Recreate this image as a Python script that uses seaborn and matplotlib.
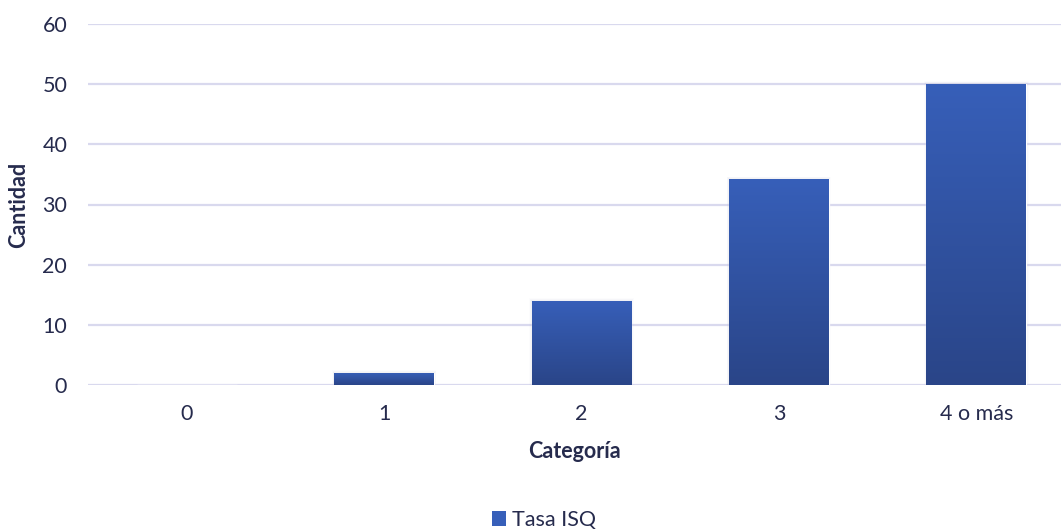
import numpy as np
import pandas as pd
import matplotlib
matplotlib.use("Agg")
import matplotlib.pyplot as plt
import seaborn as sns
from matplotlib.colors import LinearSegmentedColormap
from matplotlib.patches import Rectangle

categories = ["0", "1", "2", "3", "4 o más"]
values = [0, 2, 14, 34.2, 50]
series_name = "Tasa ISQ"
y_ticks = [0, 10, 20, 30, 40, 50, 60]

sns.set_theme(style="white")
plt.rcParams["font.family"] = ["Lato", "DejaVu Sans"]

text_color = "#262b4d"
grid_color = "#d9d9ee"
top_color = "#375fb9"
bottom_color = "#2a4588"
fs = 15.5

df = pd.DataFrame({"Categoría": categories, "Cantidad": values})

fig = plt.figure(figsize=(10.61, 5.31), dpi=100)
ax = fig.add_axes([88 / 1061, 1 - 385 / 531, 1 - 88 / 1061, (385 - 24) / 531])

sns.barplot(data=df, x="Categoría", y="Cantidad", color=top_color,
            width=0.506, ax=ax, zorder=3)

# vertical gradient fill and soft shadow for each bar
cmap = LinearSegmentedColormap.from_list("bar_grad", [bottom_color, top_color])
grad = np.linspace(0, 1, 256).reshape(-1, 1)
for patch in list(ax.patches):
    x0, y0 = patch.get_x(), patch.get_y()
    w, h = patch.get_width(), patch.get_height()
    if h <= 0:
        continue
    for k, a in enumerate([0.06, 0.04, 0.02]):
        d = 0.004 * (k + 1)
        ax.add_patch(Rectangle((x0 - d, y0), w + 2 * d, h + 0.15 * (k + 1),
                               facecolor="#7a7a9a", alpha=a, edgecolor="none",
                               zorder=2.5))
    im = ax.imshow(grad, extent=[x0, x0 + w, y0, y0 + h], origin="lower",
                   aspect="auto", cmap=cmap, zorder=3.5, interpolation="bicubic")
    im.set_clip_path(patch)

ax.set_xlim(-0.5, 4.5 - 14 / 197.5)
ax.set_ylim(0, 60)
ax.set_yticks(y_ticks)
ax.grid(axis="y", color=grid_color, linewidth=1.6, zorder=0)
ax.grid(axis="x", visible=False)
for s in ax.spines.values():
    s.set_visible(False)

ax.tick_params(axis="both", length=0, labelsize=fs, labelcolor=text_color)
ax.tick_params(axis="x", pad=14)
ax.tick_params(axis="y", pad=15)

ax.set_xlabel("Categoría", fontsize=fs, fontweight="bold", color=text_color,
              labelpad=12)
ax.set_ylabel("Cantidad", fontsize=fs, fontweight="bold", color=text_color)
ax.yaxis.set_label_coords(-59 / 973, 0.5)

handle = Rectangle((0, 0), 1, 1, facecolor=top_color, edgecolor="none")
fig.legend([handle], [series_name], loc="center", bbox_to_anchor=(544 / 1061, 1 - 520 / 531),
           frameon=False, fontsize=fs, labelcolor=text_color,
           handlelength=0.65, handleheight=0.65, handletextpad=0.25)

fig.savefig("out.png", dpi=100)
